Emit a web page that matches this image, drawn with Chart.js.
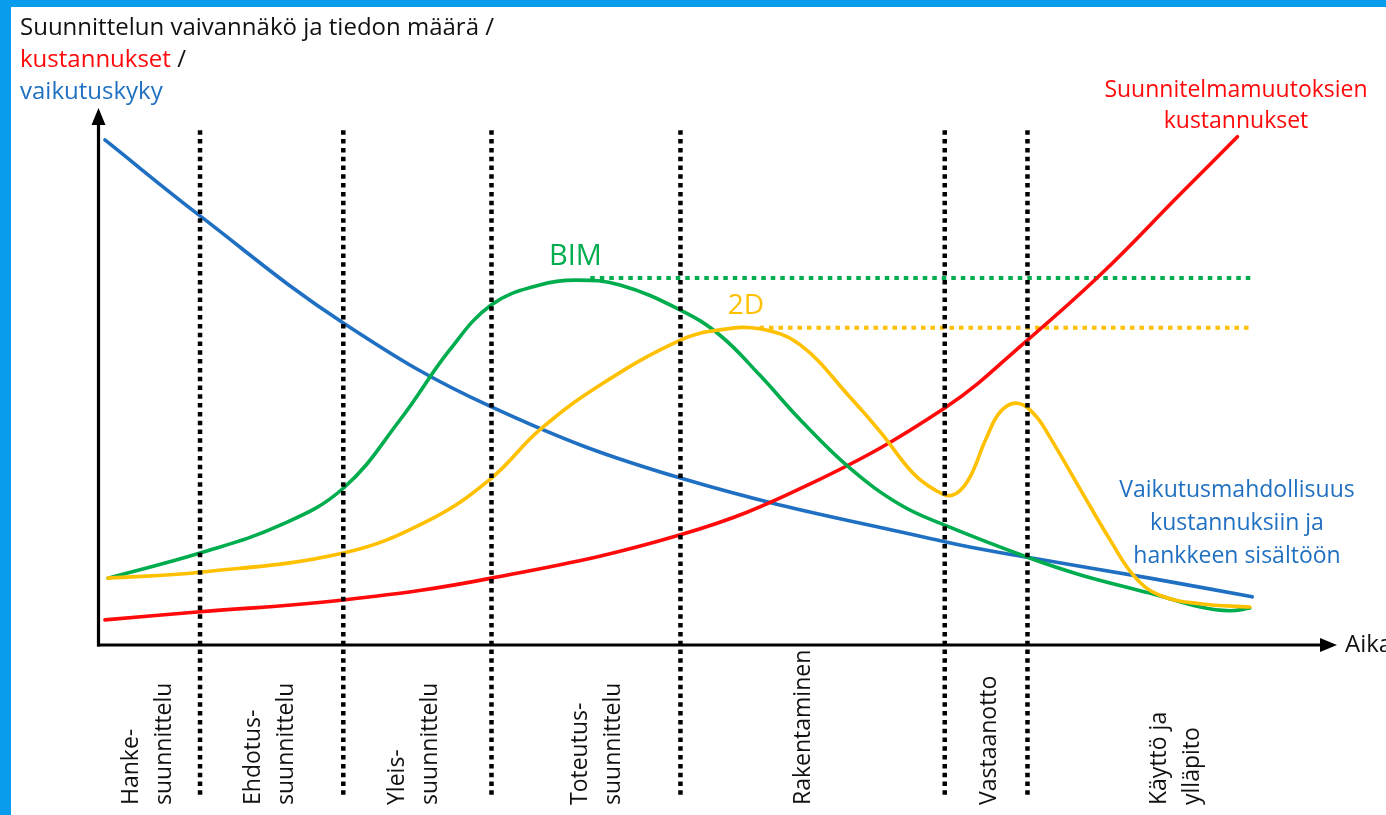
<!DOCTYPE html>
<html>
<head>
<meta charset="utf-8">
<script src="https://cdn.jsdelivr.net/npm/chart.js@4.4.1/dist/chart.umd.min.js"></script>
<style>
  html, body { margin: 0; padding: 0; background: #ffffff; }
  #wrap { width: 1386px; height: 815px; position: relative; overflow: hidden; }
</style>
</head>
<body>
<div id="wrap"><canvas id="c" width="1386" height="815"></canvas></div>
<script>
// ---- Data (time 0..100, level 0..100) ----
const influenceX = [0.4, 8.1, 19.7, 31.7, 47.0, 68.4, 75.1, 85.0, 93.3];
const influenceY = [94.4, 80.2, 60.2, 44.5, 31.2, 19.3, 16.4, 12.5, 9.0];

const costX = [0.4, 8.1, 19.7, 31.7, 47.0, 57.5, 68.4, 75.1, 81.0, 87.4, 92.1];
const costY = [4.7, 6.2, 8.4, 12.5, 20.6, 30.1, 44.3, 57.0, 69.2, 84.1, 95.0];

const bimX = [0.65, 8.1, 14.6, 19.7, 24.3, 28.3, 31.7, 35.6, 38.5, 42.1, 47.0, 50.2, 53.4, 56.7, 60.7, 64.8, 68.4, 75.1, 79.4, 85.0, 89.1, 91.5, 93.1];
const bimY = [12.5, 17.2, 22.4, 29.3, 42.1, 55.1, 63.6, 67.3, 68.2, 67.3, 62.6, 57.9, 50.5, 42.1, 33.1, 26.2, 22.4, 16.4, 13.1, 9.7, 7.1, 6.4, 6.9];

const twoDX = [0.65, 8.1, 19.7, 26.7, 31.7, 35.6, 40.5, 47.0, 50.2, 53.4, 56.7, 60.7, 63.2, 65.8, 67.6, 69.0, 70.3, 71.7, 72.9, 74.3, 75.7, 76.9, 79.4, 81.8, 83.8, 85.8, 89.1, 93.1];
const twoDY = [12.5, 13.6, 17.2, 23.4, 31.2, 40.2, 48.6, 57.0, 58.9, 59.1, 56.1, 46.4, 39.8, 32.2, 29.0, 28.0, 30.8, 38.3, 43.6, 45.2, 43.0, 38.9, 29.0, 19.6, 12.7, 9.3, 7.7, 7.1];

const bimPeakLevel = 68.6;
const bimPeakSpan = [39.7, 93.3];
const twoDPeakLevel = 59.3;
const twoDPeakSpan = [53.4, 93.3];

const phaseBoundaries = [8.1, 19.7, 31.7, 47.0, 68.4, 75.1];
const guideSpan = [-28.0, 96.3];

const phaseLabels = [["Hanke-", "suunnittelu"], ["Ehdotus-", "suunnittelu"], ["Yleis-", "suunnittelu"], ["Toteutus-", "suunnittelu"], ["Rakentaminen"], ["Vastaanotto"], ["Käyttö ja", "ylläpito"]];
const phaseCenters = [3.9, 13.8, 25.4, 40.2, 57.0, 72.0, 87.1];

// ---- Build datasets ----
const FONT = "'Open Sans', 'DejaVu Sans', sans-serif";
const BLUE = '#1f6fc2', RED = '#ff0a0a', GREEN = '#00ad4e', YELLOW = '#ffc000';
const TEXTBLUE = '#1f70c1';

function pts(xs, ys) { return xs.map((x, i) => ({ x: x, y: ys[i] })); }
function curve(label, xs, ys, color, order) {
  return { label, data: pts(xs, ys), borderColor: color, borderWidth: 3.6, pointRadius: 0,
           fill: false, tension: 0.4, order: order, borderCapStyle: 'round' };
}
const datasets = [];
phaseBoundaries.forEach((b, i) => {
  datasets.push({ label: 'phase' + i, data: [{ x: b, y: guideSpan[0] }, { x: b, y: guideSpan[1] }],
    borderColor: '#000', borderWidth: 4.5, borderDash: [4.5, 4.3], pointRadius: 0, clip: false,
    order: 0, tension: 0 });
});
datasets.push({ label: 'bimLevel', data: [{ x: bimPeakSpan[0], y: bimPeakLevel }, { x: bimPeakSpan[1], y: bimPeakLevel }],
  borderColor: GREEN, borderWidth: 4, borderDash: [4.5, 5], pointRadius: 0, order: 5 });
datasets.push({ label: 'twoDLevel', data: [{ x: twoDPeakSpan[0], y: twoDPeakLevel }, { x: twoDPeakSpan[1], y: twoDPeakLevel }],
  borderColor: YELLOW, borderWidth: 4, borderDash: [4.5, 5], pointRadius: 0, order: 5 });
datasets.push(curve('2D', twoDX, twoDY, YELLOW, 1));
datasets.push(curve('BIM', bimX, bimY, GREEN, 2));
datasets.push(curve('Suunnitelmamuutoksien kustannukset', costX, costY, RED, 3));
datasets.push(curve('Vaikutusmahdollisuus', influenceX, influenceY, BLUE, 4));

const decor = {
  id: 'decor',
  beforeDraw(chart) {
    const ctx = chart.ctx;
    ctx.save();
    ctx.fillStyle = '#ffffff';
    ctx.fillRect(0, 0, chart.width, chart.height);
    ctx.fillStyle = '#0a9cec';
    ctx.fillRect(0, 0, chart.width, 7);
    ctx.fillRect(0, 0, 11, chart.height);
    ctx.restore();
  },
  afterDraw(chart) {
    const ctx = chart.ctx;
    const a = chart.chartArea;
    const xs = chart.scales.x, ys = chart.scales.y;
    ctx.save();
    // axes
    ctx.strokeStyle = '#000'; ctx.fillStyle = '#000'; ctx.lineWidth = 3.2;
    const ax = a.left - 1.5, ay = a.bottom;
    ctx.beginPath(); ctx.moveTo(ax, ay + 1.5); ctx.lineTo(ax, a.top + 12); ctx.stroke();
    ctx.beginPath(); ctx.moveTo(ax - 7, a.top + 15); ctx.lineTo(ax + 7, a.top + 15); ctx.lineTo(ax, a.top - 2); ctx.closePath(); ctx.fill();
    ctx.beginPath(); ctx.moveTo(ax - 1.5, ay); ctx.lineTo(a.right - 12, ay); ctx.stroke();
    ctx.beginPath(); ctx.moveTo(a.right - 15, ay - 7); ctx.lineTo(a.right - 15, ay + 7); ctx.lineTo(a.right + 2, ay); ctx.closePath(); ctx.fill();

    // axis titles
    ctx.textBaseline = 'alphabetic'; ctx.textAlign = 'left';
    ctx.font = '24px ' + FONT;
    ctx.fillStyle = '#111'; ctx.fillText('Suunnittelun vaivannäkö ja tiedon määrä /', 20, 35);
    ctx.fillStyle = RED; ctx.fillText('kustannukset', 20, 67);
    const kw = ctx.measureText('kustannukset ').width;
    ctx.fillStyle = '#111'; ctx.fillText('/', 20 + kw, 67);
    ctx.fillStyle = TEXTBLUE; ctx.fillText('vaikutuskyky', 20, 99);
    ctx.fillStyle = '#111'; ctx.textBaseline = 'middle';
    ctx.fillText('Aika', a.right + 10, ay);

    // series annotations
    ctx.font = '29px ' + FONT; ctx.textAlign = 'center'; ctx.textBaseline = 'middle';
    ctx.fillStyle = GREEN; ctx.fillText('BIM', xs.getPixelForValue(38.5), ys.getPixelForValue(bimPeakLevel) - 21);
    ctx.font = '28px ' + FONT; ctx.fillStyle = YELLOW;
    ctx.fillText('2D', xs.getPixelForValue(52.3), ys.getPixelForValue(twoDPeakLevel) - 22);

    ctx.font = '23px ' + FONT; ctx.textBaseline = 'alphabetic';
    ctx.fillStyle = RED;
    ctx.fillText('Suunnitelmamuutoksien', 1236, 97);
    ctx.fillText('kustannukset', 1236, 128);
    ctx.fillStyle = TEXTBLUE;
    ctx.fillText('Vaikutusmahdollisuus', 1237, 497);
    ctx.fillText('kustannuksiin ja', 1237, 530);
    ctx.fillText('hankkeen sisältöön', 1237, 563);

    // phase labels (rotated)
    ctx.fillStyle = '#111'; ctx.font = '23px ' + FONT;
    phaseLabels.forEach((lines, i) => {
      const cx = xs.getPixelForValue(phaseCenters[i]);
      ctx.save();
      ctx.translate(cx, 805);
      ctx.rotate(-Math.PI / 2);
      ctx.textAlign = 'left'; ctx.textBaseline = 'middle';
      lines.forEach((t, j) => {
        ctx.fillText(t, 0, (j - (lines.length - 1) / 2) * 33);
      });
      ctx.restore();
    });
    ctx.restore();
  }
};

new Chart(document.getElementById('c'), {
  type: 'line',
  data: { datasets },
  options: {
    responsive: false,
    animation: false,
    events: [],
    layout: { padding: { left: 100, top: 110, right: 51, bottom: 170 } },
    plugins: { legend: { display: false }, tooltip: { enabled: false }, title: { display: false } },
    scales: {
      x: { type: 'linear', min: 0, max: 100, display: false },
      y: { type: 'linear', min: 0, max: 100, display: false }
    }
  },
  plugins: [decor]
});
</script>
</body>
</html>
